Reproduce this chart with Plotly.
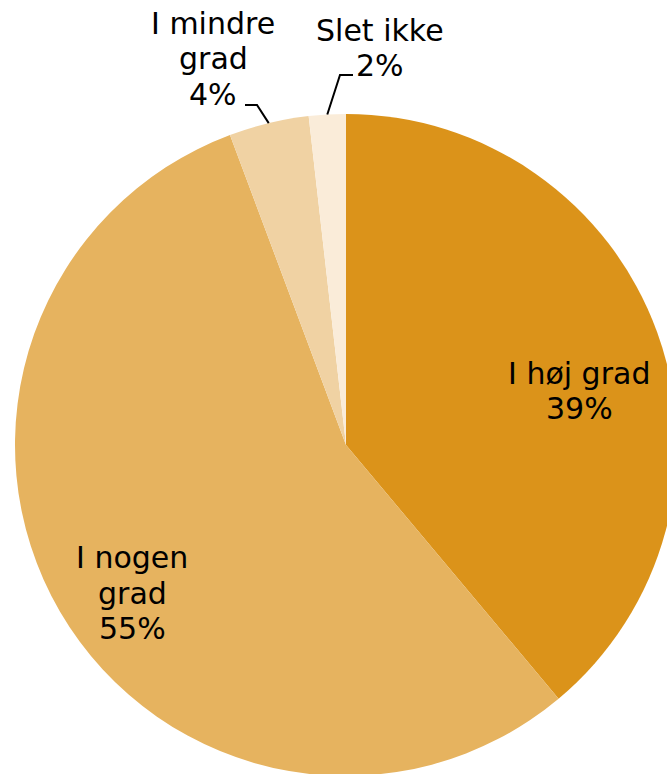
import math
import plotly.graph_objects as go

# ---- data ----
categories = ["I høj grad", "I nogen grad", "I mindre grad", "Slet ikke"]
label_lines = [["I høj grad"], ["I nogen", "grad"], ["I mindre", "grad"], ["Slet ikke"]]
values = [38.9, 55.4, 3.9, 1.8]
colors = ["#DB931A", "#E6B35F", "#F0D2A3", "#FAECD9"]

# ---- layout constants (pixels) ----
W, H = 690, 776
CX, CY, R = 346, 445, 331           # pie centre / radius in page pixels
FONT = dict(family="DejaVu Sans, Verdana, sans-serif", size=30, color="#000000")
LINE_H = 35.5

# label block centres (pixels) and leader elbows
label_pos = [(579, 391), (132, 593), (213, 59), (380, 48)]
leader_elbow = [None, None, ((245, 105), (257, 105)), ((353, 75), (340, 75))]


def px(x):
    return x / W


def py(y):
    return 1 - y / H


total = sum(values)
pcts = [round(v / total * 100) for v in values]

fig = go.Figure(go.Pie(
    labels=categories,
    values=values,
    marker=dict(colors=colors, line=dict(width=0)),
    sort=False,
    direction="clockwise",
    rotation=0,
    textinfo="none",
    hoverinfo="label+percent",
    showlegend=False,
    domain=dict(x=[(CX - R) / W, (CX + R) / W], y=[(H - CY - R) / H, (H - CY + R) / H]),
))

annotations = []
shapes = []
cum = 0.0
for i, v in enumerate(values):
    mid = (cum + v / 2) / total * 2 * math.pi
    cum += v
    lx, ly = label_pos[i]
    lines = label_lines[i] + [f"{pcts[i]}%"]
    n = len(lines)
    for k, t in enumerate(lines):
        yy = ly + (k - (n - 1) / 2) * LINE_H
        annotations.append(dict(
            x=px(lx), y=py(yy), xref="paper", yref="paper",
            text=t, showarrow=False, font=FONT, align="center",
            xanchor="center", yanchor="middle",
        ))
    if leader_elbow[i] is not None:
        ex = CX + R * math.sin(mid)
        ey = CY - R * math.cos(mid)
        (sx, sy), (bx, by) = leader_elbow[i]
        path = f"M {px(sx)},{py(sy)} L {px(bx)},{py(by)} L {px(ex)},{py(ey)}"
        shapes.append(dict(type="path", path=path, xref="paper", yref="paper",
                           line=dict(color="#000000", width=2)))

fig.update_layout(
    width=W, height=H,
    autosize=False,
    margin=dict(l=0, r=0, t=0, b=0),
    paper_bgcolor="#FFFFFF",
    plot_bgcolor="#FFFFFF",
    annotations=annotations,
    shapes=shapes,
)

fig.write_html(
    "out.html",
    config={"displayModeBar": False},
    post_script="document.body.style.margin='0';document.body.style.overflow='hidden';",
)
